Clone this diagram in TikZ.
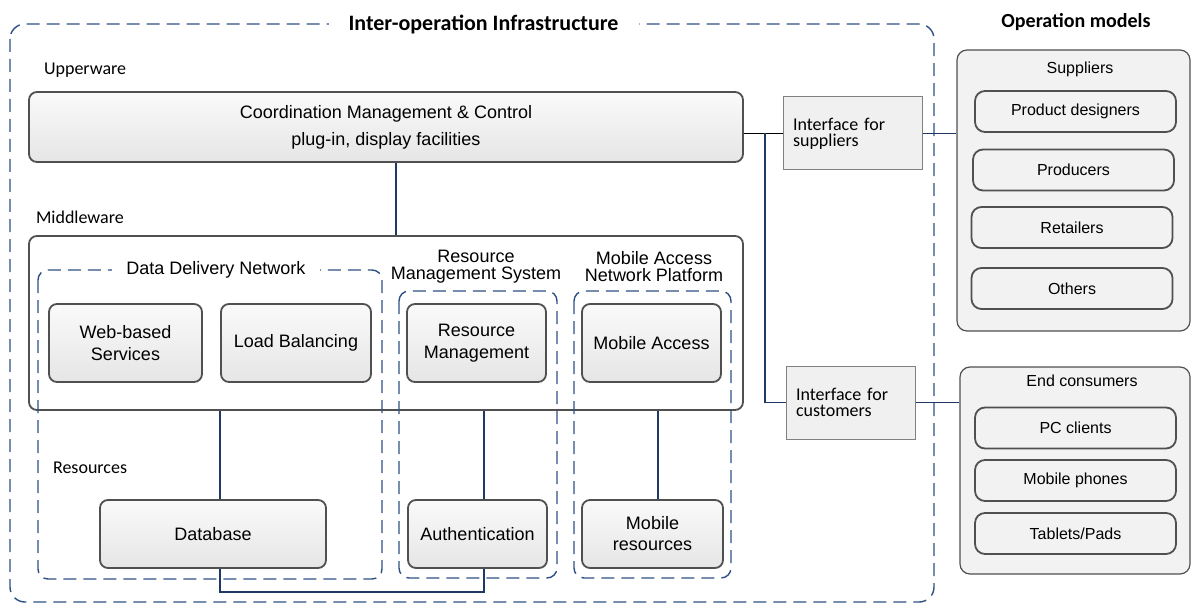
\documentclass[tikz,border=0pt]{standalone}
\usepackage{fontspec}
\setmainfont{Liberation Sans}
\newfontfamily\calibri{Carlito}
\definecolor{navy}{RGB}{32,56,100}
\definecolor{dashblue}{RGB}{44,80,132}
\definecolor{boxline}{RGB}{80,80,80}

\begin{document}
\begin{tikzpicture}[x=0.5pt, y=-0.5pt,
    box/.style={draw=boxline, line width=0.9pt, rounded corners=4pt, top color=white!98!black,
        bottom color=white!90!black, align=center, font=\fontsize{9}{11}\selectfont, inner sep=0pt},
    panel/.style={draw=boxline, line width=0.6pt, rounded corners=5pt, fill=white!95!black, inner sep=0pt},
    item/.style={draw=boxline, line width=0.9pt, rounded corners=5pt, fill=white!95!black,
        font=\fontsize{8}{10}\selectfont, minimum width=100.5pt, minimum height=20.5pt, inner sep=0pt},
    iface/.style={draw=gray, line width=0.5pt, fill=white!94!black, align=left,
        font=\calibri\fontsize{9}{8}\selectfont, inner xsep=5pt, minimum height=36.5pt},
    group/.style={draw=dashblue, line width=0.7pt, dash pattern=on 6.5pt off 3.5pt, rounded corners=5pt},
    gtitle/.style={fill=white, inner xsep=7pt, inner ysep=1pt, align=center, font=\fontsize{9}{8.5}\selectfont},
    link/.style={draw=navy, line width=0.8pt},
    layer/.style={anchor=west, font=\calibri\fontsize{9}{11}\selectfont}]

    \useasboundingbox (0,0) rectangle (1192,604);

    % infrastructure frame
    \draw[group, rounded corners=7.5pt] (10,24) rectangle (934,602);
    \node[fill=white, inner xsep=10pt, inner ysep=1pt, font=\calibri\bfseries\fontsize{11}{13}\selectfont] (T1) at (483.5,24) {Inter-operation Infrastructure};
    \node[font=\calibri\bfseries\fontsize{10}{12}\selectfont] (T2) at (1076,22) {Operation models};

    % upperware
    \node[layer] (N1) at (37,70) {Upperware};
    \node[box, minimum width=357pt, minimum height=35pt, font=\fontsize{9}{13.5}\selectfont] (U1) at (386,127) {Coordination Management \& Control\\plug-in, display facilities};

    % middleware
    \node[layer] (N2) at (29,217) {Middleware};
    \node[draw=boxline, line width=0.9pt, rounded corners=4pt, minimum width=357pt, minimum height=87pt, inner sep=0pt] (M1) at (386,323) {};

    \draw[group] (38,270) rectangle (382,579);
    \draw[group] (399,291) rectangle (557,578);
    \draw[group] (574,291) rectangle (731,578);
    \node[gtitle] (G1) at (216,270) {Data Delivery Network};
    \node[gtitle, fill=none] (G2) at (476,266.5) {Resource\\Management System};
    \node[gtitle, fill=none] (G3) at (654,266.5) {Mobile Access\\Network Platform};

    \node[box, minimum width=76.5pt, minimum height=39pt] (B1) at (125.5,343) {Web-based\\Services};
    \node[box, minimum width=75pt, minimum height=39pt] (B2) at (296,343) {Load Balancing};
    \node[box, minimum width=69.5pt, minimum height=39pt] (B3) at (476.5,343) {Resource\\Management};
    \node[box, minimum width=69.5pt, minimum height=39pt] (B4) at (651.5,343) {Mobile Access};

    % resources
    \node[layer] (N3) at (46,468) {Resources};
    \node[box, minimum width=113pt, minimum height=34pt] (R1) at (213,534) {Database};
    \node[box, minimum width=69.5pt, minimum height=34pt] (R2) at (477.5,534) {Authentication};
    \node[box, minimum width=70.5pt, minimum height=34pt, font=\fontsize{9}{10.5}\selectfont] (R3) at (652.5,534) {Mobile\\resources};

    \coordinate (L1) at (220,0);
    \coordinate (L2) at (484,0);
    \coordinate (L3) at (658,0);
    \coordinate (J1) at (765,0);

    \draw[link] ([xshift=5pt]U1.south) -- ([xshift=5pt]M1.north);
    \draw[link] (L1 |- M1.south) -- (L1 |- R1.north);
    \draw[link] (L2 |- M1.south) -- (L2 |- R2.north);
    \draw[link] (L3 |- M1.south) -- (L3 |- R3.north);
    \draw[link] (L1 |- R1.south) -- ++(0,23) -| (L2 |- R2.south);

    % interfaces
    \node[iface, text width=59.5pt] (I1) at (852.5,133.5) {Interface for\\suppliers};
    \node[iface, text width=54.5pt] (I2) at (850.5,402.5) {Interface for\\customers};

    % operation models
    \node[panel, minimum width=116.5pt, minimum height=140.5pt] (S0) at (1073.5,190.5) {};
    \node[font=\fontsize{8}{10}\selectfont] (S5) at (1080,69) {Suppliers};
    \node[item] (S1) at (1075.5,111.5) {Product designers};
    \node[item] (S2) at (1073.5,170) {Producers};
    \node[item] (S3) at (1072,227.5) {Retailers};
    \node[item] (S4) at (1072,288.5) {Others};

    \node[panel, minimum width=115pt, minimum height=103.5pt] (C0) at (1075,470.5) {};
    \node[font=\fontsize{8}{10}\selectfont] (C4) at (1082,381) {End consumers};
    \node[item] (C1) at (1075.5,428) {PC clients};
    \node[item] (C2) at (1075.5,480.5) {Mobile phones};
    \node[item] (C3) at (1075.5,533.5) {Tablets/Pads};

    \draw (I1.west -| U1.east) -- (I1.west);
    \draw[link] (I1.west -| J1) |- (I2.west);
    \draw[link] (I1.east) -- (I1.east -| S0.west);
    \draw[link] (I2.east) -- (I2.east -| C0.west);

    % \draw[red] (0,0) grid[step=100] (1192,604);
\end{tikzpicture}
\end{document}
